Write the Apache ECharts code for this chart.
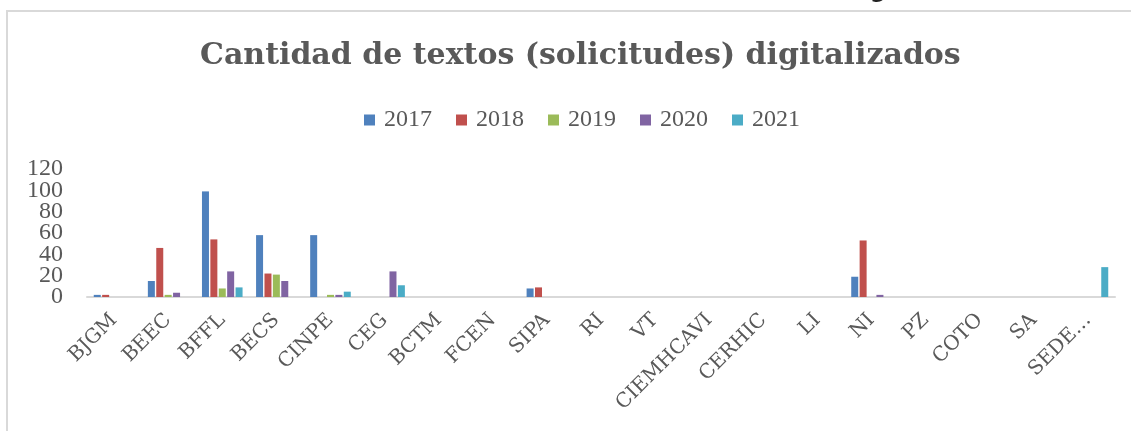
<!DOCTYPE html>
<html>
<head>
<meta charset="utf-8">
<script src="https://cdn.jsdelivr.net/npm/echarts@6/dist/echarts.min.js"></script>
<style>
  html, body { margin: 0; padding: 0; background: #fff; }
  #chart { width: 1131px; height: 431px; }
</style>
</head>
<body>
<div id="chart"></div>
<script>
const categories = ["BJGM", "BEEC", "BFFL", "BECS", "CINPE", "CEG", "BCTM", "FCEN", "SIPA", "RI",
                    "VT", "CIEMHCAVI", "CERHIC", "LI", "NI", "PZ", "COTO", "SA", "SEDE…"];

const y2017 = [2, 15, 99, 58, 58, 0, 0, 0, 8, 0, 0, 0, 0, 0, 19, 0, 0, 0, 0];
const y2018 = [2, 46, 54, 22, 0, 0, 0, 0, 9, 0, 0, 0, 0, 0, 53, 0, 0, 0, 0];
const y2019 = [0, 2, 8, 21, 2, 0, 0, 0, 0, 0, 0, 0, 0, 0, 0, 0, 0, 0, 0];
const y2020 = [0, 4, 24, 15, 2, 24, 0, 0, 0, 0, 0, 0, 0, 0, 2, 0, 0, 0, 0];
const y2021 = [0, 0, 9, 0, 5, 11, 0, 0, 0, 0, 0, 0, 0, 0, 0, 0, 0, 0, 28];

const yTicks = [0, 20, 40, 60, 80, 100, 120];

const seriesNames = ["2017", "2018", "2019", "2020", "2021"];
const seriesData = [y2017, y2018, y2019, y2020, y2021];
const colors = ["#4F81BD", "#C0504D", "#9BBB59", "#8064A2", "#4BACC6"];

const chart = echarts.init(document.getElementById("chart"));

// y labels are tall compared to their spacing, so they are split over two
// stacked axes sharing one scale (otherwise ECharts drops the overlapping ones)
const yLabelStyle = {
    margin: 24,
    fontFamily: "Liberation Serif",
    fontSize: 24,
    color: "#595959"
};

function yAxisWith(labelOpts) {
    return {
        type: "value",
        position: "left",
        min: yTicks[0],
        max: yTicks[yTicks.length - 1],
        interval: 20,
        axisLine: { show: false },
        axisTick: { show: false },
        splitLine: { show: false },
        axisLabel: Object.assign({}, yLabelStyle, labelOpts)
    };
}

chart.setOption({
    animation: false,
    color: colors,

    title: {
        text: "Cantidad de textos (solicitudes) digitalizados",
        left: 195,
        top: 36,
        textStyle: {
            fontFamily: "DejaVu Serif",
            fontWeight: "bold",
            fontSize: 30,
            color: "#595959"
        }
    },

    legend: {
        data: seriesNames,
        top: 103,
        left: 359,
        icon: "rect",
        itemWidth: 11,
        itemHeight: 11,
        itemGap: 24,
        textStyle: {
            fontFamily: "Liberation Serif",
            fontSize: 24,
            color: "#595959",
            padding: [0, 0, 0, 4]
        }
    },

    grid: {
        left: 87,
        right: 16,
        top: 169,
        bottom: 134
    },

    xAxis: {
        type: "category",
        data: categories,
        axisLine: { lineStyle: { color: "#d9d9d9", width: 2 } },
        axisTick: { length: 5, lineStyle: { color: "#d9d9d9", width: 2 } },
        axisLabel: {
            rotate: 45,
            interval: 0,
            margin: 20,
            fontFamily: "DejaVu Serif",
            fontSize: 20,
            color: "#595959"
        }
    },

    yAxis: [
        yAxisWith({
            showMinLabel: true,
            showMaxLabel: true,
            formatter: v => (v % 40 === 0 ? String(v) : "")
        }),
        yAxisWith({
            showMinLabel: false,
            showMaxLabel: false,
            formatter: v => (v % 40 === 0 ? "" : String(v))
        })
    ],

    graphic: [
        {
            type: "polyline",
            shape: { points: [[7, 431], [7, 11], [1131, 11]] },
            style: { stroke: "#d9d9d9", lineWidth: 2, fill: null }
        },
        {
            type: "text",
            left: 870,
            top: -19,
            style: { text: "g", font: "bold 22px 'DejaVu Sans'", fill: "#222" }
        }
    ],

    series: seriesNames.map((name, i) => ({
        name: name,
        type: "bar",
        yAxisIndex: 0,
        data: seriesData[i],
        barWidth: 7,
        barGap: "20%"
    }))
});
</script>
</body>
</html>
